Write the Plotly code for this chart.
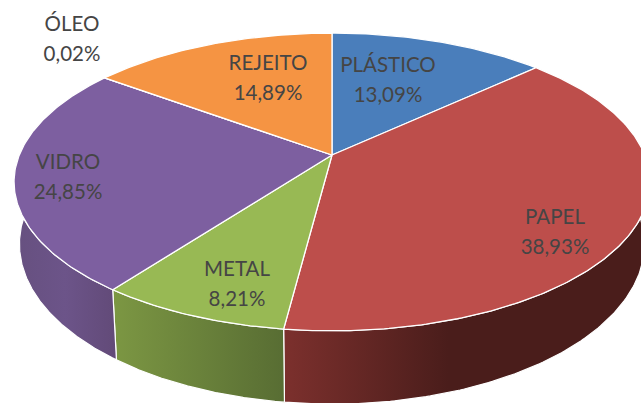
import numpy as np
import plotly.graph_objects as go

# Data
categories = ["PLÁSTICO", "PAPEL", "METAL", "VIDRO", "ÓLEO", "REJEITO"]
values = [13.09, 38.93, 8.21, 24.85, 0.02, 14.89]
top_colors = ["#4A7EBB", "#BD4E4B", "#98B954", "#7D5FA0", "#4BACC6", "#F59443"]
wall_scales = [
    [[0, "#2F4F78"], [1, "#2F4F78"]],
    [[0, "#7C302D"], [0.45, "#4A1D1B"], [1, "#4A1D1B"]],
    [[0, "#7C9743"], [1, "#586D33"]],
    [[0, "#66507F"], [0.5, "#6C5489"], [1, "#624A78"]],
    [[0, "#2E7F93"], [1, "#2E7F93"]],
    [[0, "#B86A28"], [1, "#B86A28"]],
]
# Label anchors (screen pixels): centre of the name line; percentage sits one line below
label_x = [388, 555, 237, 68, 72, 268]
label_y = [67, 219, 271, 164, 26, 65]

# Projection of the tilted disc
CX, CY = 332, 155
A, B, K = 312.7, 144.0, 0.181
DEPTH, SHRINK = 60.0, 0.983


def top(theta):
    u, v = np.sin(theta), -np.cos(theta)
    w = 1 - K * v
    return CX + A * u / w, CY + B * v / w


def bottom(theta):
    x, y = top(theta)
    v = -np.cos(theta)
    return CX + (x - CX) * SHRINK, y + DEPTH / (1 - K * v)


total = sum(values)
edges = np.concatenate([[0], np.cumsum(values)]) / total * 2 * np.pi

fig = go.Figure()

# Walls: only the part of each slice facing the viewer
FRONT_START, FRONT_END = np.radians(75), np.radians(290)
for i in range(len(values)):
    a0, a1 = max(edges[i], FRONT_START), min(edges[i + 1], FRONT_END)
    if a1 <= a0:
        continue
    t = np.linspace(a0, a1, 160)
    xt, yt = top(t)
    xb, yb = bottom(t[::-1])
    fig.add_trace(go.Scatter(
        x=np.concatenate([xt, xb, xt[:1]]), y=np.concatenate([yt, yb, yt[:1]]),
        mode="lines", fill="toself",
        fillgradient=dict(type="horizontal", colorscale=wall_scales[i]),
        line=dict(color="white", width=1.2), hoverinfo="skip", showlegend=False,
    ))

# Top faces
for i in range(len(values)):
    t = np.linspace(edges[i], edges[i + 1], max(3, int((edges[i + 1] - edges[i]) * 80)))
    xt, yt = top(t)
    fig.add_trace(go.Scatter(
        x=np.concatenate([[CX], xt, [CX]]), y=np.concatenate([[CY], yt, [CY]]),
        mode="lines", fill="toself", fillcolor=top_colors[i],
        line=dict(color="white", width=1.3), hoverinfo="skip", showlegend=False,
        name=categories[i],
    ))

# Labels
font = dict(family="Lato, Carlito, Calibri, sans-serif", size=20.5, color="#454545")
fig.add_trace(go.Scatter(
    x=label_x, y=label_y, mode="text", text=categories, textposition="middle center",
    textfont=font, hoverinfo="skip", showlegend=False,
))
fig.add_trace(go.Scatter(
    x=label_x, y=[y + 30 for y in label_y], mode="text",
    text=[f"{v:.2f}%".replace(".", ",") for v in values], textposition="middle center",
    textfont=font, hoverinfo="skip", showlegend=False,
))

fig.update_layout(
    width=641, height=403, margin=dict(l=0, r=0, t=0, b=0),
    paper_bgcolor="white", plot_bgcolor="white",
    xaxis=dict(range=[0, 641], visible=False, fixedrange=True),
    yaxis=dict(range=[403, 0], visible=False, fixedrange=True),
)
fig.write_html(
    "out.html",
    config={"displayModeBar": False},
    post_script="document.body.style.margin='0';document.body.style.overflow='hidden';",
)
